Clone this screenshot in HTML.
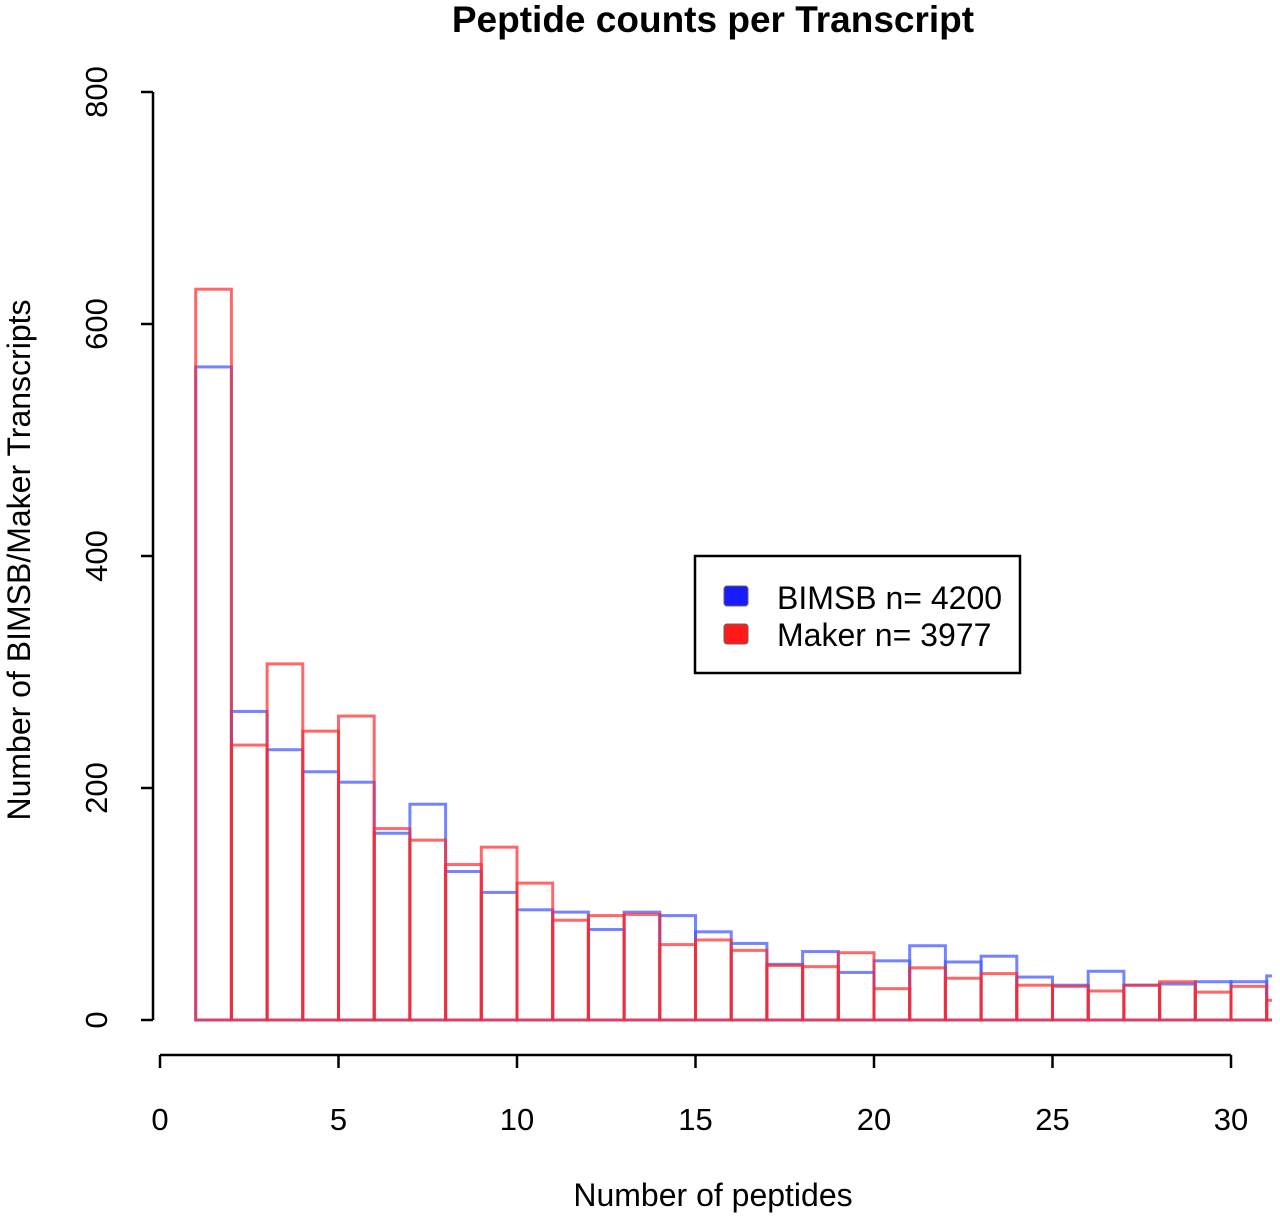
<!DOCTYPE html>
<html><head><meta charset="utf-8">
<style>
html,body{margin:0;padding:0;background:#fff;}
svg{display:block;font-family:"Liberation Sans",sans-serif;}
</style></head>
<body>
<svg id="chart" width="1280" height="1219" viewBox="0 0 1280 1219">
<defs><clipPath id="plotclip"><rect x="150" y="80" width="1122" height="960"/></clipPath></defs>
<text x="713" y="32" font-size="37" font-weight="bold" text-anchor="middle">Peptide counts per Transcript</text>
<text x="713" y="1206" font-size="32" text-anchor="middle">Number of peptides</text>
<text transform="translate(30,560) rotate(-90)" font-size="32" text-anchor="middle">Number of BIMSB/Maker Transcripts</text>
<g id="bars" clip-path="url(#plotclip)"></g>
<g id="yaxis"></g>
<g id="xaxis"></g>
<g>
<rect x="695" y="556" width="325" height="117" fill="#fff" stroke="#000" stroke-width="2.5"/>
<rect x="724" y="586" width="24" height="20" rx="3" fill="#1a1aff" stroke="#666" stroke-width="1"/>
<text x="777" y="609" font-size="32">BIMSB n= 4200</text>
<rect x="724" y="624" width="24" height="20" rx="3" fill="#ff1a1a" stroke="#666" stroke-width="1"/>
<text x="777" y="646" font-size="32">Maker n= 3977</text>
</g>
</svg>
<script>
const binStarts = [1,2,3,4,5,6,7,8,9,10,11,12,13,14,15,16,17,18,19,20,21,22,23,24,25,26,27,28,29,30,31];
const bimsbCounts = [563,266,233,214,205,161,186,128,110,95,93,78,93,90,76,66,48,59,41,51,64,50,55,37,30,42,30,31,33,33,38];
const makerCounts = [630,237,307,249,262,165,155,134,149,118,86,90,91,65,69,60,47,46,58,27,45,36,40,30,29,25,30,33,24,29,17];
const yTicks = [0,200,400,600,800];
const xTicks = [0,5,10,15,20,25,30];

const NS = "http://www.w3.org/2000/svg";
function xs(v){ return 160 + v * (1231 - 160) / 30; }
function ys(v){ return 1020 - v * (1020 - 92) / 800; }
function mk(tag, attrs, parent){ const e = document.createElementNS(NS, tag); for (const k in attrs) e.setAttribute(k, attrs[k]); parent.appendChild(e); return e; }

const bars = document.getElementById('bars');
function series(counts, color, name){
  counts.forEach((c, i) => {
    const x0 = xs(binStarts[i]), x1 = xs(binStarts[i] + 1);
    const r = mk('rect', {x: x0, y: ys(c), width: x1 - x0, height: ys(0) - ys(c), fill: 'none', stroke: color, 'stroke-width': 3}, bars);
    
    
  });
}
series(bimsbCounts, 'rgba(70,90,255,0.75)', 'bimsb');
series(makerCounts, 'rgba(255,40,40,0.7)', 'maker');

const ya = document.getElementById('yaxis');
mk('line', {x1: 153, y1: ys(800), x2: 153, y2: ys(0), stroke: '#000', 'stroke-width': 2.5}, ya);
yTicks.forEach(t => {
  mk('line', {x1: 141, y1: ys(t), x2: 153, y2: ys(t), stroke: '#000', 'stroke-width': 2.5}, ya);
  const tx = mk('text', {transform: `translate(107,${ys(t)}) rotate(-90)`, 'font-size': 31, 'text-anchor': 'middle'}, ya);
  tx.textContent = t;
  
  
});

const xa = document.getElementById('xaxis');
mk('line', {x1: xs(0), y1: 1055, x2: xs(30), y2: 1055, stroke: '#000', 'stroke-width': 2.5}, xa);
xTicks.forEach(t => {
  mk('line', {x1: xs(t), y1: 1055, x2: xs(t), y2: 1068, stroke: '#000', 'stroke-width': 2.5}, xa);
  const tx = mk('text', {x: xs(t), y: 1130, 'font-size': 31, 'text-anchor': 'middle'}, xa);
  tx.textContent = t;
  
  
});
</script>
</body></html>
